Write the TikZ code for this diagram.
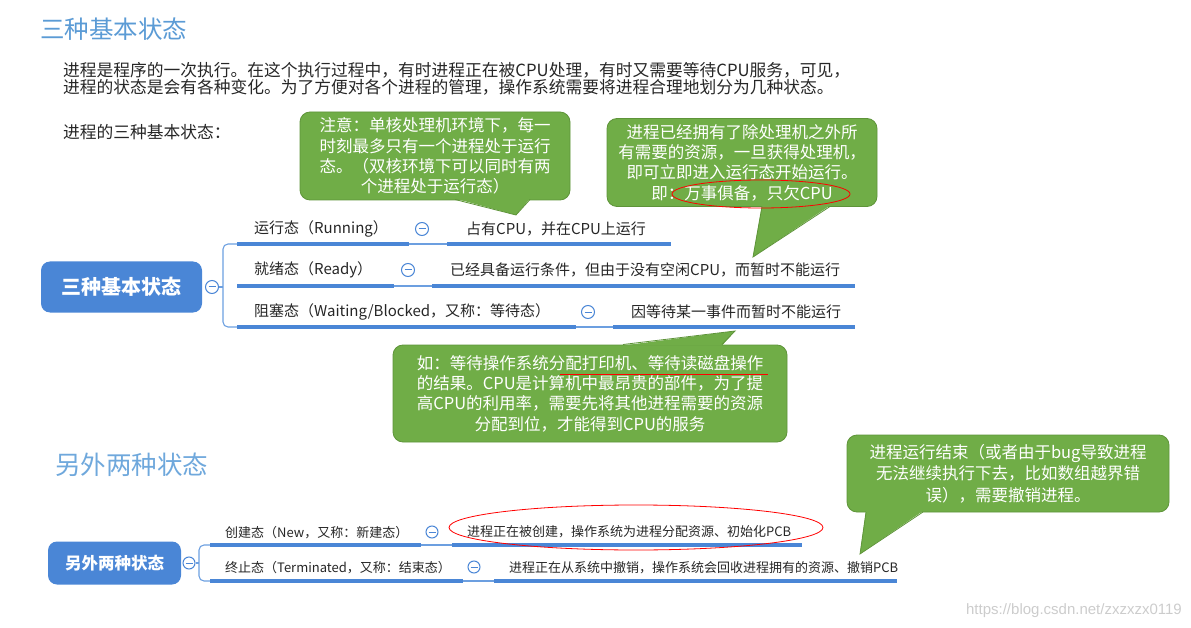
\documentclass[tikz,border=0pt]{standalone}
\usepackage{fontspec}
\setmainfont{Noto Sans CJK SC}
\newfontfamily\wmfont{Liberation Sans}
\usetikzlibrary{positioning}
\definecolor{mapblue}{HTML}{4A86D6}
\definecolor{linkblue}{HTML}{6C9FE0}
\definecolor{titleblue}{HTML}{5B9BD5}
\definecolor{titlelight}{HTML}{6FA8DC}
\definecolor{notegreen}{HTML}{70AD47}
\definecolor{noteedge}{HTML}{5E9439}
\definecolor{inkgray}{HTML}{262626}

\begin{document}
\begin{tikzpicture}[x=1pt, y=-1pt]
	\tikzstyle{title} = [anchor=west, inner sep=0, font=\fontsize{24.5}{28}\selectfont]
	\tikzstyle{para} = [anchor=west, inner sep=0, text=inkgray, font=\fontsize{16.75}{17}\selectfont]
	\tikzstyle{note} = [rectangle, draw=noteedge, fill=notegreen, rounded corners=10pt,
	text=white, align=center, inner sep=0, line width=0.8pt, font=\fontsize{16.5}{20.3}\selectfont]
	\tikzstyle{tailedge} = [draw=noteedge, line width=0.8pt]
	\tikzstyle{root} = [rectangle, fill=mapblue, rounded corners=9pt, text=white, inner sep=0]
	\tikzstyle{leaf} = [anchor=west, inner sep=0, text=inkgray, font=\fontsize{15}{16}\selectfont]
	\tikzstyle{smallleaf} = [leaf, font=\fontsize{13}{14}\selectfont]
	\tikzstyle{minus} = [circle, draw=mapblue, fill=white, line width=1pt, minimum size=13pt, inner sep=0,
	path picture={\draw[mapblue, line width=1pt] ([xshift=-3.5pt]path picture bounding box.center)
	-- ([xshift=3.5pt]path picture bounding box.center);}]
	\tikzstyle{uline} = [draw=mapblue, line width=3.6pt]
	\tikzstyle{link} = [draw=linkblue, line width=1.1pt]
	\tikzstyle{redring} = [draw=red, line width=0.8pt]
	\useasboundingbox (0,0) rectangle (1191,628);
	% Text
	\node [title, text=titleblue] (head1) at (40,29) {三种基本状态};
	\node [para] (intro1) at (63,70) {进程是程序的一次执行。在这个执行过程中，有时进程正在被CPU处理，有时又需要等待CPU服务，可见，};
	\node [para] (intro2) at (63,87) {进程的状态是会有各种变化。为了方便对各个进程的管理，操作系统需要将进程合理地划分为几种状态。};
	\node [para] (intro3) at (63,132) {进程的三种基本状态：};
	\node [title, text=titlelight, font=\fontsize{25.5}{28}\selectfont] (head2) at (55,465) {另外两种状态};
	% Three basic states
	\node [root, minimum width=161pt, minimum height=51pt, font=\bfseries\fontsize{20}{22}\selectfont] (basic) at (121.5,287) {三种基本状态};
	\node [minus] (basicm) at (212,287) {};
	\node [leaf] (run) at (254,229) {运行态（Running）};
	\node [minus] (runm) at (422,229) {};
	\node [leaf] (runv) at (466,229) {占有CPU，并在CPU上运行};
	\node [leaf] (ready) at (254,270) {就绪态（Ready）};
	\node [minus] (readym) at (408,270) {};
	\node [leaf] (readyv) at (450,270) {已经具备运行条件，但由于没有空闲CPU，而暂时不能运行};
	\node [leaf] (block) at (254,312) {阻塞态（Waiting/Blocked，又称：等待态）};
	\node [minus] (blockm) at (588,312) {};
	\node [leaf] (blockv) at (631,312) {因等待某一事件而暂时不能运行};
	\path [link] (basicm) -- (223,287);
	\path [link, rounded corners=5pt] (237,244) -- (223,244) -- (223,327) -- (237,327);
	\path [uline] (237,244) -- (409,244);
	\path [link] (409,244) -- (447,244);
	\path [uline] (447,244) -- (671,244);
	\path [uline] (237,286) -- (394,286);
	\path [link] (394,286) -- (432,286);
	\path [uline] (432,286) -- (855,286);
	\path [uline] (237,327) -- (576,327);
	\path [link] (576,327) -- (613,327);
	\path [uline] (613,327) -- (855,327);
	% Two other states
	\node [root, minimum width=133pt, minimum height=43pt, font=\bfseries\fontsize{16.5}{18}\selectfont] (extra) at (114.5,563) {另外两种状态};
	\node [minus, minimum size=12pt] (extram) at (189,563) {};
	\node [smallleaf] (new) at (225,533) {创建态（New，又称：新建态）};
	\node [minus, minimum size=12pt] (newm) at (432,532) {};
	\node [smallleaf] (newv) at (467,532) {进程正在被创建，操作系统为进程分配资源、初始化PCB};
	\node [smallleaf] (stop) at (225,568) {终止态（Terminated，又称：结束态）};
	\node [minus, minimum size=12pt] (stopm) at (474,567) {};
	\node [smallleaf] (stopv) at (509,568) {进程正在从系统中撤销，操作系统会回收进程拥有的资源、撤销PCB};
	\path [link] (extram) -- (199,563);
	\path [link, rounded corners=5pt] (210,545) -- (199,545) -- (199,581) -- (210,581);
	\path [uline] (210,545) -- (421,545);
	\path [link] (421,545) -- (452,545);
	\path [uline] (452,545) -- (802,545);
	\path [uline] (210,581) -- (463,581);
	\path [link] (463,581) -- (494,581);
	\path [uline] (494,581) -- (897,581);
	% Callouts
	\node [note, minimum width=270pt, minimum height=88pt] (note1) at (435,156) {注意：单核处理机环境下，每一\\时刻最多只有一个进程处于运行\\态。（双核环境下可以同时有两\\个进程处于运行态）};
	\coordinate (note1tip) at (516,215);
	\fill [notegreen] (455,198.5) -- (note1tip) -- (530,198.5) -- cycle;
	\path [tailedge] (455,199.5) -- (note1tip) -- (530,199.5);
	\node [note, minimum width=270pt, minimum height=88pt] (note2) at (742,162.5) {进程已经拥有了除处理机之外所\\有需要的资源，一旦获得处理机，\\即可立即进入运行态开始运行。\\即：万事俱备，只欠CPU};
	\coordinate (note2tip) at (753,257);
	\fill [notegreen] (762,205.5) -- (note2tip) -- (830,205.5) -- cycle;
	\path [tailedge] (762,206.5) -- (note2tip) -- (830,206.5);
	\path [redring] (761,194) ellipse [x radius=89pt, y radius=14pt];
	\node [note, minimum width=394pt, minimum height=97pt] (note3) at (590,393.5) {如：等待操作系统分配打印机、等待读磁盘操作\\的结果。CPU是计算机中最昂贵的部件，为了提\\高CPU的利用率，需要先将其他进程需要的资源\\分配到位，才能得到CPU的服务};
	\coordinate (note3tip) at (735,331);
	\fill [notegreen] (623,345.5) -- (note3tip) -- (722,345.5) -- cycle;
	\path [tailedge] (623,344.5) -- (note3tip) -- (722,344.5);
	\path [redring] (560,374) -- (768,374);
	\node [note, minimum width=322pt, minimum height=77pt, font=\fontsize{16.5}{21.5}\selectfont] (note4) at (1008,473.5) {进程运行结束（或者由于bug导致进程\\无法继续执行下去，比如数组越界错\\误），需要撤销进程。};
	\coordinate (note4tip) at (860,554);
	\fill [notegreen] (866,511) -- (note4tip) -- (923,511) -- cycle;
	\path [tailedge] (866,512) -- (note4tip) -- (923,512);
	\path [redring] (636,527.5) ellipse [x radius=187pt, y radius=22.5pt];
	% Watermark
	\node [anchor=east, inner sep=0, text=gray!40, font=\wmfont\fontsize{15}{16}\selectfont] (mark0) at (1182,611) {https://blog.csdn.net/zxzxzx0119};
\end{tikzpicture}
\end{document}
